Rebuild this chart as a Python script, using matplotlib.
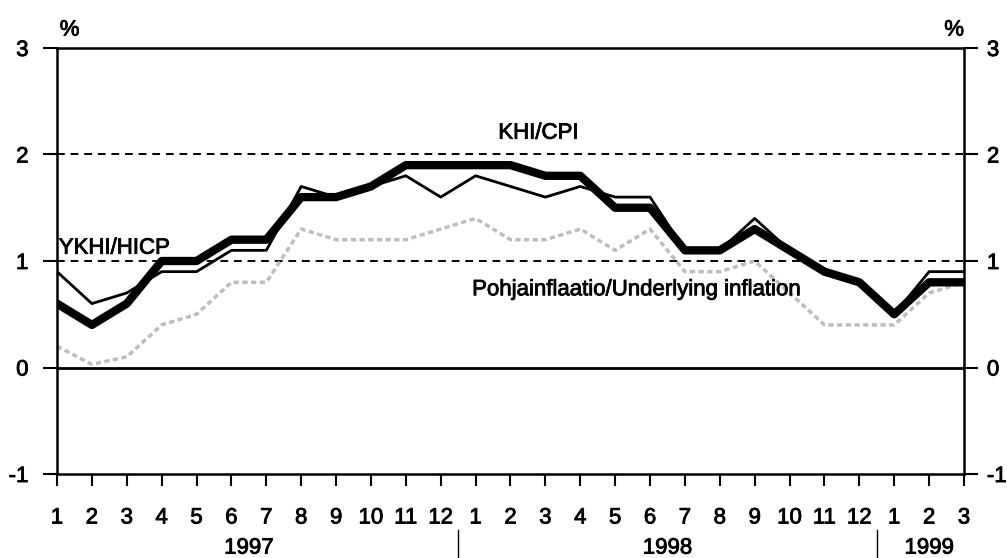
import matplotlib.pyplot as plt
import matplotlib.transforms as mtransforms
import matplotlib.patheffects as pe
import numpy as np

months = ['1', '2', '3', '4', '5', '6', '7', '8', '9', '10', '11', '12',
          '1', '2', '3', '4', '5', '6', '7', '8', '9', '10', '11', '12',
          '1', '2', '3']
years = ['1997', '1998', '1999']
year_months = [12, 12, 3]

# thick line
hicp = [0.6, 0.4, 0.6, 1.0, 1.0, 1.2, 1.2, 1.6, 1.6, 1.7, 1.9, 1.9,
        1.9, 1.9, 1.8, 1.8, 1.5, 1.5, 1.1, 1.1, 1.3, 1.1, 0.9, 0.8,
        0.5, 0.8, 0.8]
# thin line
cpi = [0.9, 0.6, 0.7, 0.9, 0.9, 1.1, 1.1, 1.7, 1.6, 1.7, 1.8, 1.6,
       1.8, 1.7, 1.6, 1.7, 1.6, 1.6, 1.1, 1.1, 1.4, 1.1, 0.9, 0.8,
       0.5, 0.9, 0.9]
# grey dotted
underlying = [0.2, 0.03, 0.1, 0.4, 0.5, 0.8, 0.8, 1.3, 1.2, 1.2, 1.2, 1.3,
              1.4, 1.2, 1.2, 1.3, 1.1, 1.3, 0.9, 0.9, 1.0, 0.7, 0.4, 0.4,
              0.4, 0.7, 0.8]

plt.rcParams['font.family'] = ['Liberation Sans', 'DejaVu Sans']
plt.rcParams['axes.unicode_minus'] = False
fs = 16
bold = [pe.withStroke(linewidth=0.6, foreground='black')]

fig = plt.figure(figsize=(10.07, 5.58), dpi=100)
ax = fig.add_axes([0.0566, 0.1505, 0.9007, 0.7635])

x = np.arange(len(months))
ax.plot(x, underlying, color='#bdbdbd', lw=2.5, ls=(0, (1.5, 1)), zorder=2)
ax.plot(x, cpi, color='black', lw=2, zorder=3)
ax.plot(x, hicp, color='black', lw=6, zorder=4, solid_capstyle='round')

ax.axhline(0, color='black', lw=2, zorder=1)
for yv in [1, 2]:
    ax.axhline(yv, color='black', lw=1.4, ls=(0, (4, 3)), zorder=1)

ax.set_xlim(0, len(months) - 1)
ax.set_ylim(-1, 3)
for s in ax.spines.values():
    s.set_linewidth(1.8)

ax.set_yticks([-1, 0, 1, 2, 3])
ax.tick_params(axis='y', left=True, right=True, labelleft=True, labelright=True,
               direction='out', length=10, width=1.5, labelsize=fs, pad=10.5)
ax.set_xticks(x)
ax.set_xticklabels(months)
ax.tick_params(axis='x', direction='out', length=8.6, width=1.5, labelsize=fs, pad=15.5)

# right labels sit a little closer to the axis
offset = mtransforms.ScaledTranslation(-4 / 72, 0, fig.dpi_scale_trans)
for tick in ax.yaxis.get_major_ticks():
    tick.label1.set_path_effects(bold)
    tick.label2.set_path_effects(bold)
    tick.label2.set_transform(tick.label2.get_transform() + offset)
for tick in ax.xaxis.get_major_ticks():
    tick.label1.set_path_effects(bold)

trans = mtransforms.blended_transform_factory(ax.transData, ax.transAxes)
start = 0
for i, (yr, n) in enumerate(zip(years, year_months)):
    ax.text(start + (n - 1) / 2, -0.174, yr, transform=trans, ha='center', va='center',
            fontsize=fs, path_effects=bold)
    if i > 0:
        ax.plot([start - 0.5, start - 0.5], [-0.131, -0.2], transform=trans,
                color='black', lw=1, clip_on=False)
    start += n

ax.text(0.003, 1.042, '%', transform=ax.transAxes, ha='left', va='center', fontsize=fs,
        path_effects=bold)
ax.text(1.0, 1.042, '%', transform=ax.transAxes, ha='right', va='center', fontsize=fs,
        path_effects=bold)

ax.text(13.8, 2.2, 'KHI/CPI', ha='center', va='center', fontsize=fs, path_effects=bold)
ax.text(0.05, 1.12, 'YKHI/HICP', ha='left', va='center', fontsize=fs, path_effects=bold)
ax.text(11.9, 0.73, 'Pohjainflaatio/Underlying inflation', ha='left', va='center',
        fontsize=fs, path_effects=bold)

fig.savefig('out.png', dpi=100)
